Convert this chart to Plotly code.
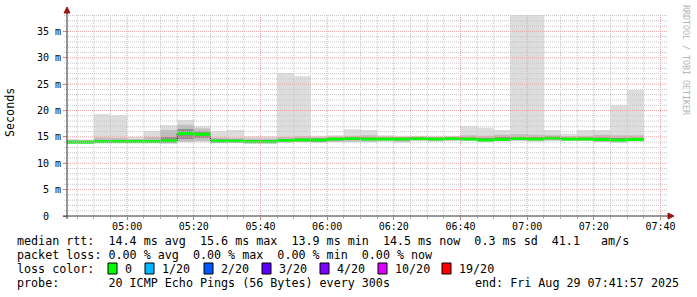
import plotly.graph_objects as go
import pandas as pd

# ---------------- data ----------------
day = "2025-08-29 "
bar_start = ["04:40", "04:45", "04:50", "04:55", "05:00", "05:05", "05:10", "05:15", "05:20", "05:25",
             "05:30", "05:35", "05:40", "05:45", "05:50", "05:55", "06:00", "06:05", "06:10", "06:15",
             "06:20", "06:25", "06:30", "06:35", "06:40", "06:45", "06:50", "06:55", "07:00", "07:05",
             "07:10", "07:15", "07:20", "07:25", "07:30"]
bar_last_end = "07:35"

ping_min = [13.7, 13.7, 13.8, 13.8, 13.8, 13.8, 13.7, 14.0, 14.0, 13.8,
            13.9, 13.7, 13.7, 13.9, 14.0, 13.9, 14.0, 14.0, 14.0, 14.1,
            13.9, 14.2, 14.1, 14.2, 14.2, 14.0, 14.1, 14.2, 14.1, 14.2,
            14.2, 14.2, 14.0, 13.9, 14.1]
ping_p10 = [13.8, 13.8, 13.85, 13.85, 13.85, 13.85, 13.8, 14.1, 14.2, 13.9,
            13.95, 13.8, 13.8, 14.0, 14.05, 14.0, 14.1, 14.1, 14.1, 14.2,
            14.1, 14.3, 14.2, 14.3, 14.3, 14.1, 14.2, 14.3, 14.2, 14.3,
            14.3, 14.3, 14.1, 14.0, 14.2]
ping_p25 = [13.85, 13.85, 13.95, 13.95, 13.95, 13.95, 13.95, 14.6, 14.8, 14.0,
            14.05, 13.9, 13.9, 14.1, 14.15, 14.1, 14.3, 14.4, 14.4, 14.4,
            14.3, 14.5, 14.4, 14.5, 14.4, 14.2, 14.35, 14.5, 14.4, 14.6,
            14.45, 14.45, 14.3, 14.2, 14.3]
median_rtt = [14.0, 14.0, 14.1, 14.1, 14.1, 14.1, 14.25, 15.65, 15.5, 14.2,
              14.2, 14.1, 14.1, 14.3, 14.4, 14.4, 14.6, 14.7, 14.6, 14.6,
              14.6, 14.7, 14.6, 14.7, 14.6, 14.4, 14.55, 14.7, 14.6, 14.8,
              14.6, 14.6, 14.5, 14.4, 14.5]
ping_p75 = [14.2, 14.2, 14.4, 14.4, 14.3, 14.4, 15.0, 16.5, 16.0, 14.5,
            14.45, 14.4, 14.4, 14.6, 14.7, 14.7, 14.85, 14.9, 14.9, 14.85,
            14.9, 14.9, 14.85, 14.9, 14.9, 14.8, 15.0, 15.0, 15.0, 15.0,
            14.85, 14.9, 14.9, 14.8, 14.85]
ping_p90 = [14.4, 14.35, 14.9, 14.8, 14.6, 15.0, 16.3, 17.3, 16.6, 14.9,
            14.8, 14.7, 14.7, 15.0, 15.1, 14.95, 15.05, 15.2, 15.3, 15.05,
            15.0, 15.05, 15.0, 15.05, 15.3, 15.2, 15.4, 15.5, 15.4, 15.3,
            15.1, 15.2, 15.4, 15.3, 15.3]
ping_max = [14.6, 14.5, 19.3, 19.05, 15.0, 16.1, 17.2, 18.2, 17.0, 16.1,
            16.3, 15.1, 15.1, 27.1, 26.5, 15.2, 15.3, 16.45, 16.3, 15.3,
            15.2, 15.2, 15.2, 15.2, 17.0, 16.8, 16.3, 38.1, 38.1, 16.3,
            15.6, 16.3, 16.3, 21.0, 23.9]

y_tick_vals = [0, 5, 10, 15, 20, 25, 30, 35]
y_tick_text = ["0  ", "5 m", "10 m", "15 m", "20 m", "25 m", "30 m", "35 m"]

loss_labels = ["0", "1/20", "2/20", "3/20", "4/20", "10/20", "19/20"]
loss_colors = ["#00ff00", "#00b8ff", "#0059ff", "#5e00ff", "#7e00ff", "#dd00ff", "#ff0000"]

line_rtt = "median rtt:  14.4 ms avg  15.6 ms max  13.9 ms min  14.5 ms now  0.3 ms sd  41.1   am/s"
line_loss = "packet loss: 0.00 % avg  0.00 % max  0.00 % min  0.00 % now"
line_probe = "probe:       20 ICMP Echo Pings (56 Bytes) every 300s"
line_end = "end: Fri Aug 29 07:41:57 2025"

x_range = [day + "04:41:57", day + "07:41:57"]
y_range = [0, 38.3]

# ---------------- geometry ----------------
WIDTH, HEIGHT = 697, 297
L, R, T, B = 67, 30, 14, 81
PW = WIDTH - L - R
PH = HEIGHT - T - B
BOTTOM = HEIGHT - B
MONO = "DejaVu Sans Mono"


def px(xp):
    return (xp - L) / PW


def py(yp):
    return (BOTTOM - yp) / PH


def nb(s):
    return s.replace(" ", "\u00a0")


xs = [day + t for t in bar_start] + [day + bar_last_end]


def step(vals):
    return list(vals) + [vals[-1]]


fig = go.Figure()

# smoke layers (outer -> inner)
layers = [(ping_min, ping_max, "#dddddd"),
          (ping_p10, ping_p90, "#bebebe"),
          (ping_p25, ping_p75, "#8e8e8e")]
for lo, hi, col in layers:
    fig.add_trace(go.Scatter(x=xs, y=step(lo), mode="lines", line=dict(width=0, shape="hv"),
                             hoverinfo="skip", showlegend=False))
    fig.add_trace(go.Scatter(x=xs, y=step(hi), mode="lines", line=dict(width=0, shape="hv"),
                             fill="tonexty", fillcolor=col, hoverinfo="skip", showlegend=False))

# black median step line
fig.add_trace(go.Scatter(x=xs, y=step(median_rtt), mode="lines",
                         line=dict(width=1, color="#202020", shape="hv"),
                         hoverinfo="skip", showlegend=False))

# green loss-coloured median segments
gx, gy = [], []
for i, m in enumerate(median_rtt):
    gx += [xs[i], xs[i + 1], None]
    gy += [m, m, None]
fig.add_trace(go.Scatter(x=gx, y=gy, mode="lines", line=dict(width=3, color=loss_colors[0]),
                         hoverinfo="skip", showlegend=False))

shapes = []
# grid drawn above the data (as rrdtool does)
minor_times = pd.date_range(day + "04:45", day + "07:40", freq="5min")
for t in minor_times:
    major = (t.minute % 20 == 0)
    shapes.append(dict(type="line", xref="x", yref="paper", x0=t, x1=t, y0=0, y1=1.0,
                       line=dict(color="#e7a3a3" if major else "#c6c6c6", width=1, dash="1px,1px"),
                       layer="above"))
for v in range(1, 39):
    major = (v % 5 == 0)
    shapes.append(dict(type="line", xref="paper", yref="y", x0=px(64), x1=1.0, y0=v, y1=v,
                       line=dict(color="#e7a3a3" if major else "#c6c6c6", width=1, dash="1px,1px"),
                       layer="above"))

# axes lines + arrows
axis_col = "#303030"
arrow_col = "#9a1515"
shapes.append(dict(type="line", xref="paper", yref="paper", x0=px(67), x1=px(67), y0=py(219), y1=py(11),
                   line=dict(color=axis_col, width=1), layer="above"))
shapes.append(dict(type="line", xref="paper", yref="paper", x0=px(63), x1=px(670), y0=py(BOTTOM), y1=py(BOTTOM),
                   line=dict(color=axis_col, width=1), layer="above"))
shapes.append(dict(type="path", xref="paper", yref="paper",
                   path=f"M {px(64)} {py(13)} L {px(70)} {py(13)} L {px(67)} {py(7)} Z",
                   fillcolor=arrow_col, line=dict(color=arrow_col, width=1), layer="above"))
shapes.append(dict(type="path", xref="paper", yref="paper",
                   path=f"M {px(668)} {py(BOTTOM-3)} L {px(668)} {py(BOTTOM+3)} L {px(674)} {py(BOTTOM)} Z",
                   fillcolor=arrow_col, line=dict(color=arrow_col, width=1), layer="above"))

annotations = []


def ann(text, xp, yp, size=11.7, xanchor="left", color="black", angle=0):
    annotations.append(dict(text=nb(text), x=px(xp), y=py(yp), xref="paper", yref="paper",
                            showarrow=False, xanchor=xanchor, yanchor="middle", textangle=angle,
                            font=dict(family=MONO, size=size, color=color)))


ann(line_rtt, 15, 241)
ann(line_loss, 15, 255)
ann("loss color:", 15, 269)
ann(line_probe, 15, 283)
ann(line_end, 681, 283, xanchor="right")
ann("Seconds", 10, 113, angle=-90, xanchor="center")
ann("RRDTOOL / TOBI OETIKER", 686, 60, size=8.3, color="#b4b4b4", angle=90, xanchor="center")

box_x = [108, 145, 204, 262, 320, 378, 442]
for bx, lab, col in zip(box_x, loss_labels, loss_colors):
    shapes.append(dict(type="rect", xref="paper", yref="paper", x0=px(bx), x1=px(bx + 9),
                       y0=py(274), y1=py(263), fillcolor=col, line=dict(color="black", width=1)))
    ann(lab, bx + 15, 269)

fig.update_layout(
    width=WIDTH, height=HEIGHT,
    margin=dict(l=L, r=R, t=T, b=B, pad=0),
    paper_bgcolor="white", plot_bgcolor="white",
    showlegend=False,
    shapes=shapes, annotations=annotations,
    xaxis=dict(type="date", range=x_range, showgrid=False, zeroline=False, showline=False,
               tickformat="%H:%M", dtick=1200000, tick0=day + "05:00",
               ticks="outside", ticklen=3, tickcolor="#b08080", ticklabelstandoff=-2,
               tickfont=dict(family=MONO, size=10, color="black"),
               minor=dict(dtick=300000, tick0=day + "04:45", ticks="outside", ticklen=2,
                          tickcolor="#b0b0b0", showgrid=False)),
    yaxis=dict(range=y_range, showgrid=False, zeroline=False, showline=False,
               tickmode="array", tickvals=y_tick_vals, ticktext=[nb(t) for t in y_tick_text],
               ticks="outside", ticklen=3, tickcolor="#b08080",
               tickfont=dict(family=MONO, size=10, color="black")),
)

fig.write_html("out.html")
